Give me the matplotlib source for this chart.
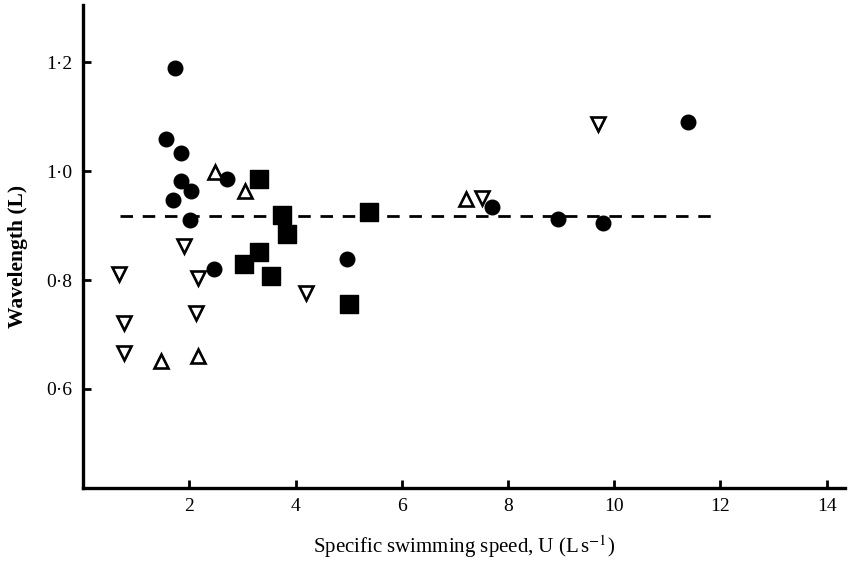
import matplotlib
matplotlib.use("Agg")
import matplotlib.pyplot as plt
from matplotlib.ticker import FuncFormatter

# filled circles
circle_x = [1.73, 1.56, 1.85, 1.85, 2.04, 1.70, 2.01, 2.71, 2.47, 4.97, 7.70, 8.94, 9.79, 11.38]
circle_y = [1.189, 1.059, 1.033, 0.982, 0.963, 0.947, 0.910, 0.985, 0.820, 0.839, 0.934, 0.912, 0.905, 1.090]

# filled squares
square_x = [3.31, 3.75, 3.84, 5.38, 3.31, 3.03, 3.54, 5.01]
square_y = [0.985, 0.919, 0.884, 0.925, 0.851, 0.829, 0.807, 0.756]

# open up-triangles
up_x = [2.48, 3.04, 1.47, 2.16, 7.21]
up_y = [0.998, 0.963, 0.651, 0.660, 0.949]

# open down-triangles
down_x = [0.68, 0.78, 0.78, 1.90, 2.17, 2.13, 4.20, 7.52, 9.69]
down_y = [0.811, 0.721, 0.666, 0.862, 0.804, 0.739, 0.776, 0.950, 1.086]

# mean wavelength line
mean_x = [0.70, 12.0]
mean_y = [0.917, 0.917]

x_ticks = [2, 4, 6, 8, 10, 12, 14]
y_ticks = [0.6, 0.8, 1.0, 1.2]

plt.rcParams["font.family"] = ["Liberation Serif", "DejaVu Serif"]
plt.rcParams["mathtext.fontset"] = "stix"

fig = plt.figure(figsize=(8.49, 5.61), dpi=100)
ax = fig.add_axes([0.0978, 0.130, 0.8972, 0.861])

ax.plot(mean_x, mean_y, color="black", linestyle=(0, (4.5, 3.5)), linewidth=2.0, zorder=1)
ax.scatter(circle_x, circle_y, marker="o", s=110, color="black", zorder=3)
ax.scatter(square_x, square_y, marker="s", s=150, color="black", zorder=3)
ax.plot(up_x, up_y, linestyle="none", marker="^", markersize=9.5,
        markerfacecolor="white", markeredgecolor="black", markeredgewidth=1.9, zorder=3)
ax.plot(down_x, down_y, linestyle="none", marker="v", markersize=9.5,
        markerfacecolor="white", markeredgecolor="black", markeredgewidth=1.9, zorder=3)

ax.set_xlim(0, 14.34)
ax.set_ylim(0.418, 1.305)
ax.set_xticks(x_ticks)
ax.set_yticks(y_ticks)
ax.yaxis.set_major_formatter(FuncFormatter(lambda v, p: f"{v:.1f}".replace(".", "\u00b7")))

for side in ["top", "right"]:
    ax.spines[side].set_visible(False)
for side in ["left", "bottom"]:
    ax.spines[side].set_linewidth(2.4)
ax.tick_params(direction="in", length=6, width=2, labelsize=14)
ax.tick_params(axis="x", pad=7)
ax.tick_params(axis="y", pad=7.5)

ax.set_xlabel("Specific swimming speed, U (L$\\,$s$^{-1}$)", fontsize=15, va="center")
ax.xaxis.set_label_coords(0.5, -0.122)
ax.set_ylabel("Wavelength (L)", fontsize=15.5, fontweight="bold", va="center")
ax.yaxis.set_label_coords(-0.0853, 0.48)

fig.savefig("out.png", dpi=100)
